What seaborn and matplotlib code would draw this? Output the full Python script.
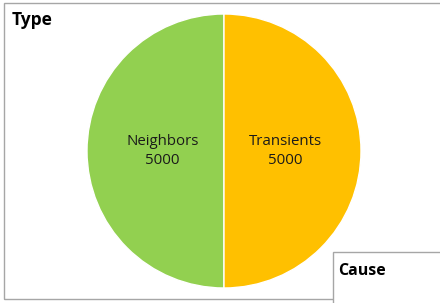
import matplotlib
matplotlib.use("Agg")
import matplotlib.pyplot as plt
import seaborn as sns
from matplotlib.patches import Rectangle

# Data
categories = ["Neighbors", "Transients"]
values = [5000, 5000]
colors = ["#92D050", "#FFC000"]
chart_title = "Type"
legend_title = "Cause"

sns.set_style("white")
plt.rcParams['font.family'] = ['Open Sans', 'DejaVu Sans']

W, H = 440, 303
fig = plt.figure(figsize=(4.4, 3.03), dpi=100)
ax = fig.add_axes([0, 0, 1, 1])

# Pie (pixel coordinates, y measured from bottom)
wedges, texts = ax.pie(values, labels=[f"{c}\n{v}" for c, v in zip(categories, values)],
                       colors=colors, startangle=90, counterclock=True,
                       center=(224, H - 151), radius=137, labeldistance=0.45,
                       wedgeprops=dict(edgecolor="white", linewidth=1),
                       textprops=dict(fontsize=10.8, color="#1a1a1a", linespacing=1.35))
for t in texts:
    t.set_ha("center")
    t.set_va("center")

ax.set_xlim(0, W)
ax.set_ylim(0, H)
ax.set_aspect("equal")
ax.axis("off")

# chart border
ax.add_patch(Rectangle((4, H - 299), W, 296, fill=False, edgecolor="#A6A6A6",
                       linewidth=1.0, zorder=5))
ax.text(12, H - 20, chart_title, fontsize=12.5, fontweight="bold", ha="left",
        va="center", color="black", zorder=6)

# "Cause" box
ax.add_patch(Rectangle((333, -5), 120, H - 252 + 5, facecolor="white",
                       edgecolor="#A6A6A6", linewidth=1.0, zorder=7))
ax.text(338, H - 271, legend_title, fontsize=11.5, fontweight="bold", ha="left",
        va="center", color="black", zorder=8)

fig.savefig("out.png", dpi=100)
